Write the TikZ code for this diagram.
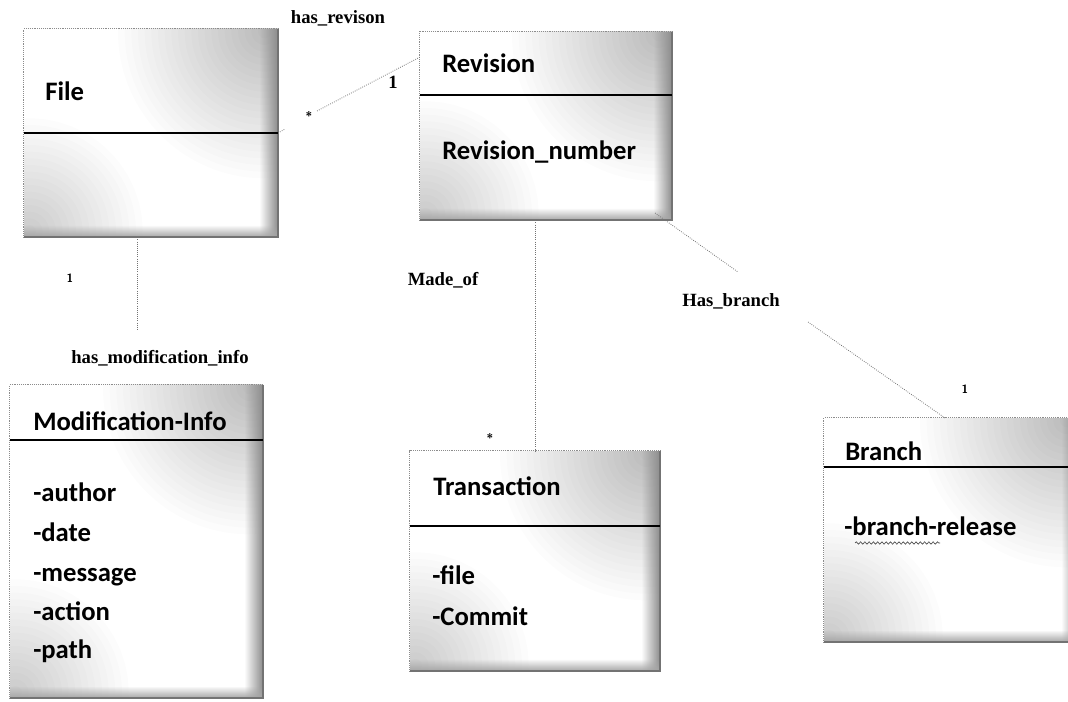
\documentclass[tikz,border=0pt]{standalone}
\usepackage{fontspec}
\setmainfont{Liberation Serif}
\newfontfamily\boxfont{Carlito}
\usetikzlibrary{fadings,fit,calc,decorations.pathmorphing}

% edge bands used inside the class boxes
\tikzfading[name=toright, left color=transparent!100, right color=transparent!0]
\tikzfading[name=todown, top color=transparent!100, bottom color=transparent!0]

% frame of a class box: faint dotted top/left, heavier grey right/bottom
\newcommand\umlframe[1]{%
  \draw[lightedge] (#1.south west) -- (#1.north west) -- (#1.north east);
  \draw[darkedge] (#1.north east) -- (#1.south east) -- (#1.south west);}

\begin{document}
\begin{tikzpicture}[x=0.75pt, y=-0.75pt,
  umlbox/.style={inner sep=0pt, fill=white, path picture={
      % soft grey clouds in the upper right and lower left corners
      \foreach \r in {5,10,...,110}
        \fill[black, opacity=0.013]
          ($(path picture bounding box.north east)+(-10pt,-2pt)$) circle (\r pt);
      \foreach \r in {5,10,...,85}
        \fill[black, opacity=0.013]
          ($(path picture bounding box.south west)+(4pt,4pt)$) circle (\r pt);
      \fill[black!45, path fading=toright]
        ($(path picture bounding box.north east)+(-14pt,0pt)$) rectangle (path picture bounding box.south east);
      \fill[black!35, path fading=todown]
        ($(path picture bounding box.south west)+(0pt,9pt)$) rectangle (path picture bounding box.south east);
    }},
  lightedge/.style={black!45, line width=0.4pt, densely dotted},
  darkedge/.style={black!55, line width=1.4pt},
  divider/.style={black, line width=1.5pt},
  boxtext/.style={font=\boxfont\bfseries\fontsize{20}{24}\selectfont, inner sep=0pt, anchor=base west},
  assoc/.style={black!55, line width=0.6pt, densely dotted},
  rolename/.style={font=\fontsize{14}{16}\selectfont\bfseries, inner sep=0pt},
  mult/.style={font=\sffamily\bfseries\fontsize{9}{10}\selectfont, inner sep=0pt},
  bigmult/.style={font=\bfseries\fontsize{14}{16}\selectfont, inner sep=0pt}]

\useasboundingbox (0,0) rectangle (1068,702);

% ---------- class boxes ----------
\node[umlbox, fit={(24,29) (278,237)}] (file) {};
\umlframe{file}
\draw[divider] (24,133) -- (278,133);
\node[boxtext] (filet) at (45,101) {File};

\node[umlbox, fit={(420,32) (672,220)}] (rev) {};
\umlframe{rev}
\draw[divider] (420,95) -- (672,95);
\node[boxtext] (revt) at (442,73) {Revision};
\node[boxtext] (revnum) at (442,160) {Revision\_number};

\node[umlbox, fit={(10,385) (263,698)}] (mod) {};
\umlframe{mod}
\draw[divider] (10,440) -- (263,440);
\node[boxtext] (modt) at (33,431) {Modification-Info};
\node[boxtext] (m1) at (33,501) {-author};
\node[boxtext] (m2) at (33,541) {-date};
\node[boxtext] (m3) at (33,581) {-message};
\node[boxtext] (m4) at (33,620) {-action};
\node[boxtext] (m5) at (33,658) {-path};

\node[umlbox, fit={(410,451) (660,671)}] (trans) {};
\umlframe{trans}
\draw[divider] (410,526) -- (660,526);
\node[boxtext] (transt) at (433,495) {Transaction};
\node[boxtext] (t1) at (432,584) {-file};
\node[boxtext] (t2) at (432,625) {-Commit};

\node[umlbox, fit={(824,418) (1080,642)}] (branch) {};
\umlframe{branch}
\draw[divider] (824,467) -- (1080,467);
\node[boxtext] (brt) at (845,460) {Branch};
\node[boxtext] (b1) at (844,535) {-branch-release};
\draw[black!70, line width=0.5pt, decorate,
      decoration={snake, amplitude=0.9pt, segment length=3.2pt}]
  (855,543) -- (940,543);

% ---------- associations ----------
\coordinate (fileend) at (278,133);
\coordinate (fgap) at (285,129);
\coordinate (rgap) at (317,111);
\coordinate (revin) at (420,57);
\draw[assoc] (fileend) -- (fgap);
\draw[assoc] (rgap) -- (revin);
\node[rolename] (hasrev) at (338,18) {has\_revison};
\node[bigmult] (revone) at (393,82) {1};
\node[mult] (filestar) at (309,116) {*};

\coordinate (modfoot) at (137,330);
\draw[assoc] (file.south -| modfoot) -- (modfoot);
\node[mult] (fileone) at (70,278) {1};
\node[rolename] (hasmod) at (160,358) {has\_modification\_info};

\draw[assoc] (rev.south -| 535,0) -- (trans.north -| 535,0);
\node[rolename] (madeof) at (443,280) {Made\_of};
\node[mult] (transstar) at (490,438) {*};

\coordinate (revcorner) at (655,213);
\coordinate (bgap1) at (738,272);
\coordinate (bgap2) at (808,322);
\coordinate (branchin) at (945,418);
\draw[assoc] (revcorner) -- (bgap1);
\draw[assoc] (bgap2) -- (branchin);
\node[rolename] (hasbranch) at (731,301) {Has\_branch};
\node[mult] (branchone) at (965,389) {1};

\end{tikzpicture}
\end{document}
